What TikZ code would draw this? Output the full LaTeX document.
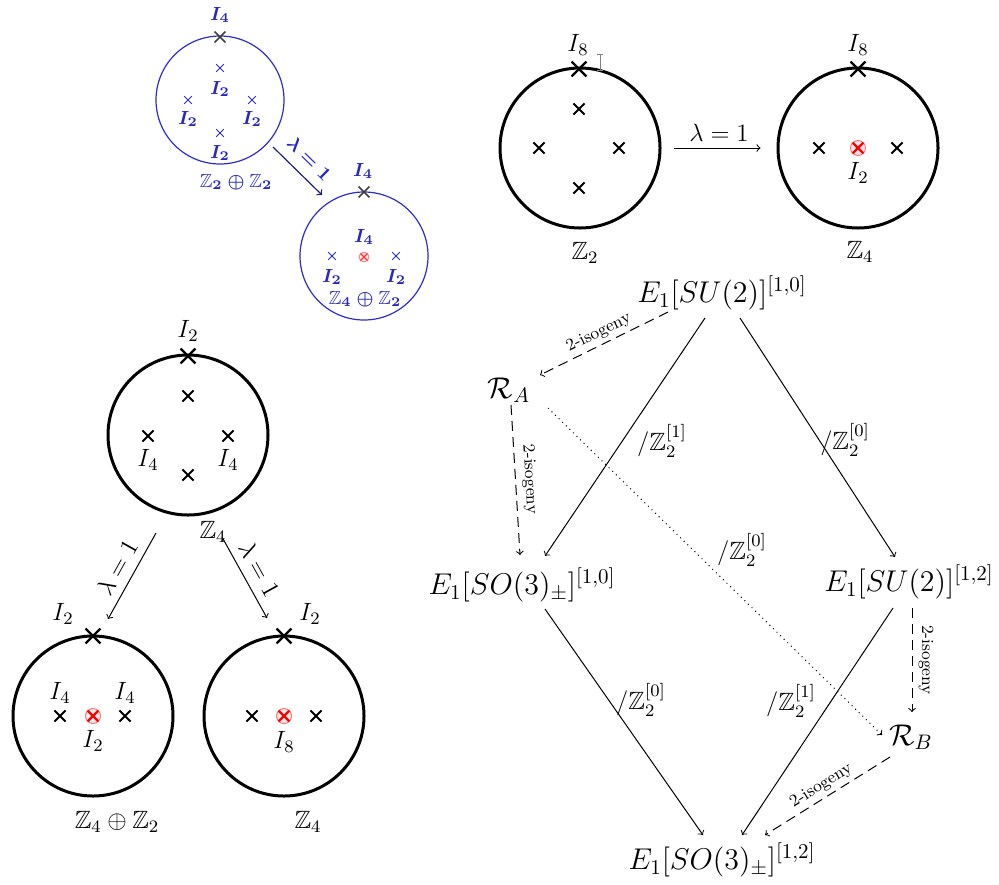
\documentclass[tikz,border=0pt]{standalone}
\IfFileExists{fix-cm.sty}{\RequirePackage{fix-cm}}{}
\usepackage{amsmath,amssymb}
\usetikzlibrary{calc,shapes.misc}
\definecolor{bluel}{RGB}{45,45,210}
\definecolor{bluet}{RGB}{40,40,190}
\definecolor{bluea}{RGB}{30,30,125}
\tikzset{
 fib/.style={circle,draw,line width=1.5pt,minimum size=80pt,inner sep=0pt},
 bfib/.style={circle,draw=bluel,line width=0.6pt,minimum size=64pt,inner sep=0pt},
 xm/.style={cross out,draw,line width=1pt,minimum size=4.6pt,inner sep=0pt},
 xtop/.style={cross out,draw,line width=1.2pt,minimum size=6.2pt,inner sep=0pt},
 bxm/.style={cross out,draw=bluel,line width=0.5pt,minimum size=3.3pt,inner sep=0pt},
 bxtop/.style={cross out,draw=black!75,line width=0.8pt,minimum size=4.6pt,inner sep=0pt},
 rc/.style={circle,draw=red!55,fill=red!8,line width=0.5pt,minimum size=7.5pt,inner sep=0pt},
 rx/.style={cross out,draw=red,line width=1.1pt,minimum size=4.2pt,inner sep=0pt},
 brc/.style={circle,draw=red!55,fill=red!8,line width=0.4pt,minimum size=5pt,inner sep=0pt},
 brx/.style={cross out,draw=red!80,line width=0.6pt,minimum size=2.8pt,inner sep=0pt},
 lab/.style={font=\fontsize{12.5}{15}\selectfont,inner sep=1pt},
 blab/.style={font=\fontsize{9.5}{11}\selectfont\boldmath,text=bluet,inner sep=1pt},
 gnode/.style={font=\fontsize{15}{18}\selectfont,inner sep=1pt},
 qlab/.style={font=\fontsize{12.5}{15}\selectfont,inner sep=1pt},
 iso/.style={font=\fontsize{8.5}{10}\selectfont,inner sep=2pt},
 arr/.style={->,line width=0.5pt},
 darr/.style={->,line width=0.5pt,dash pattern=on 5pt off 3pt},
 dotarr/.style={->,line width=0.5pt,dotted},
}
\begin{document}
\begin{tikzpicture}[x=0.5pt,y=-0.5pt]
\useasboundingbox (0,0) rectangle (999,884);

% ---------------- blue diagram ----------------
\node[bfib] (B1) at (220,100) {};
\node[bxtop] (B1t) at (220,37) {};
\node[blab] (B1tl) at (220,15) {$I_4$};
\node[bxm] (B1a) at (220,68) {};
\node[blab] (B1al) at (220,89) {$I_2$};
\node[bxm] (B1b) at (188,100) {};
\node[blab] (B1bl) at (188,119) {$I_2$};
\node[bxm] (B1c) at (252,100) {};
\node[blab] (B1cl) at (252,119) {$I_2$};
\node[bxm] (B1d) at (220,133) {};
\node[blab] (B1dl) at (220,153) {$I_2$};
\node[blab] (B1g) at (236,182) {$\mathbb{Z}_2\oplus\mathbb{Z}_2$};

\node[bfib] (B2) at (364,256) {};
\node[bxtop] (B2t) at (364,192) {};
\node[blab] (B2tl) at (363,171) {$I_4$};
\node[blab] (B2il) at (364,237) {$I_4$};
\node[brc] (B2r) at (364,257) {};
\node[brx] (B2rx) at (364,257) {};
\node[bxm] (B2a) at (332,256) {};
\node[blab] (B2al) at (332,277) {$I_2$};
\node[bxm] (B2b) at (396,256) {};
\node[blab] (B2bl) at (396,277) {$I_2$};
\node[blab] (B2g) at (365,299) {$\mathbb{Z}_4\oplus\mathbb{Z}_2$};

\draw[->,bluea,line width=0.6pt] ($(B1)+(53,47)$) -- node[blab,sloped,above=4pt]{$\lambda=1$} ($(B2)+(-42,-61)$);

% ---------------- top right ----------------
\node[fib] (A) at (580,148) {};
\node[xtop] (At) at (579,69) {};
\node[lab] (Atl) at (578,45) {$I_8$};
\node[xm] (Aa) at (579,109) {};
\node[xm] (Ab) at (539,148) {};
\node[xm] (Ac) at (619,148) {};
\node[xm] (Ad) at (579,188) {};
\node[lab] (Ag) at (585,253) {$\mathbb{Z}_2$};
\draw[gray,line width=0.5pt] (600,54) -- (600,70) (597,54) -- (603,54) (597,70) -- (603,70);

\node[fib] (Bc) at (858,148) {};
\node[xtop] (Bt) at (858,69) {};
\node[lab] (Btl) at (858,45) {$I_8$};
\node[xm] (Ba) at (819,148) {};
\node[xm] (Bb) at (897,148) {};
\node[rc] (Br) at (858,148) {};
\node[rx] (Brx) at (858,148) {};
\node[lab] (Brl) at (858,173) {$I_2$};
\node[lab] (Bg) at (860,252) {$\mathbb{Z}_4$};

\draw[arr,shorten <=6pt,shorten >=8pt] (A) -- node[lab,above=2pt]{$\lambda=1$} (Bc);

% ---------------- bottom left ----------------
\node[fib] (C) at (188,435) {};
\node[xtop] (Ct) at (188,356) {};
\node[lab] (Ctl) at (188,331) {$I_2$};
\node[xm] (Ca) at (188,396) {};
\node[xm] (Cb) at (148,436) {};
\node[lab] (Cbl) at (148,460) {$I_4$};
\node[xm] (Cc) at (228,436) {};
\node[lab] (Ccl) at (228,460) {$I_4$};
\node[xm] (Cd) at (188,475) {};
\node[lab] (Cg) at (213,532) {$\mathbb{Z}_4$};

\node[fib] (D) at (93,716) {};
\node[xtop] (Dt) at (93,636) {};
\node[lab] (Dtl) at (63,614) {$I_2$};
\node[xm] (Da) at (60,716) {};
\node[lab] (Dal) at (60,693) {$I_4$};
\node[xm] (Db) at (125,716) {};
\node[lab] (Dbl) at (125,693) {$I_4$};
\node[rc] (Dr) at (93,716) {};
\node[rx] (Drx) at (93,716) {};
\node[lab] (Drl) at (93,741) {$I_2$};
\node[lab] (Dg) at (117,822) {$\mathbb{Z}_4\oplus\mathbb{Z}_2$};

\node[fib] (E) at (284,716) {};
\node[xtop] (Et) at (284,636) {};
\node[lab] (Etl) at (310,614) {$I_2$};
\node[xm] (Ea) at (252,716) {};
\node[xm] (Eb) at (316,716) {};
\node[rc] (Er) at (284,716) {};
\node[rx] (Erx) at (284,716) {};
\node[lab] (Erl) at (284,742) {$I_8$};
\node[lab] (Eg) at (308,822) {$\mathbb{Z}_4$};

\draw[arr] ($(C)+(-32,98)$) -- node[lab,sloped,above=3pt]{$\lambda=1$} ($(D)+(15,-97)$);
\draw[arr] ($(C)+(34,102)$) -- node[lab,sloped,above=3pt]{$\lambda=1$} ($(E)+(-17,-98)$);

% ---------------- graph ----------------
\node[gnode] (N1) at (722,293) {$E_1[SU(2)]^{[1,0]}$};
\node[gnode] (RA) at (509,390) {$\mathcal{R}_A$};
\node[gnode] (N2) at (522,585) {$E_1[SO(3)_{\pm}]^{[1,0]}$};
\node[gnode] (N3) at (909,582) {$E_1[SU(2)]^{[1,2]}$};
\node[gnode] (RB) at (911,737) {$\mathcal{R}_B$};
\node[gnode] (N4) at (722,860) {$E_1[SO(3)_{\pm}]^{[1,2]}$};

\draw[darr] ($(N1)+(-54,19)$) -- node[iso,sloped,above]{2-isogeny} ($(RA)+(31,-15)$);
\draw[arr] ($(N1)+(-17,25)$) -- ($(N2)+(23,-29)$);
\node[qlab] (L1) at (662,441) {$/\mathbb{Z}_2^{[1]}$};
\draw[arr] ($(N1)+(18,25)$) -- ($(N3)+(-14,-25)$);
\node[qlab] (L2) at (845,440) {$/\mathbb{Z}_2^{[0]}$};
\draw[darr] ($(RA)+(2,15)$) -- node[iso,sloped,above=1pt]{2-isogeny} ($(N2)+(-2,-30)$);
\draw[dotarr] ($(RA)+(39,18)$) -- ($(RB)+(-29,-2)$);
\node[qlab] (L3) at (742,550) {$/\mathbb{Z}_2^{[0]}$};
\draw[arr] ($(N2)+(23,24)$) -- ($(N4)+(-19,-25)$);
\node[qlab] (L4) at (641,700) {$/\mathbb{Z}_2^{[0]}$};
\draw[arr] ($(N3)+(-16,26)$) -- ($(N4)+(20,-25)$);
\node[qlab] (L5) at (791,701) {$/\mathbb{Z}_2^{[1]}$};
\draw[darr] ($(N3)+(3,26)$) -- node[iso,sloped,above=1pt]{2-isogeny} ($(RB)+(1,-25)$);
\draw[darr] ($(RB)+(-21,20)$) -- node[iso,sloped,above]{2-isogeny} ($(N4)+(43,-25)$);
\end{tikzpicture}
\end{document}
